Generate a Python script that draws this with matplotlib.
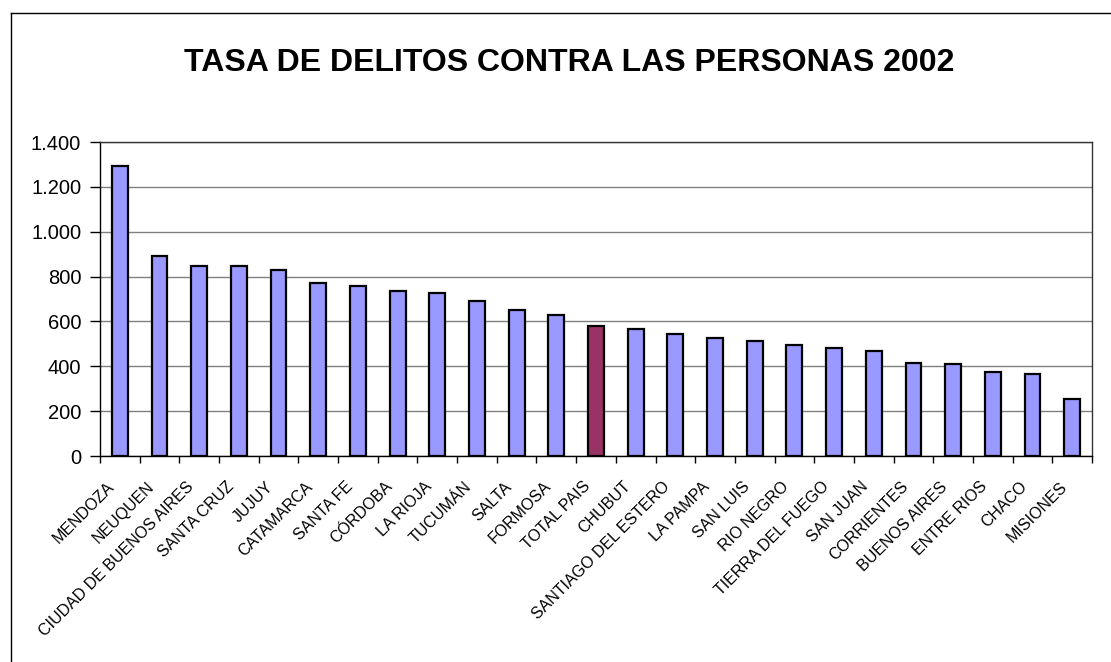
import matplotlib
matplotlib.use("Agg")
import matplotlib.pyplot as plt
from matplotlib.lines import Line2D
from matplotlib.ticker import FuncFormatter, FixedLocator
from matplotlib.transforms import ScaledTranslation
import numpy as np

plt.rcParams['font.family'] = ['Liberation Sans', 'DejaVu Sans']

categories = ["MENDOZA", "NEUQUEN", "CIUDAD DE BUENOS AIRES", "SANTA CRUZ", "JUJUY",
              "CATAMARCA", "SANTA FE", "CÓRDOBA", "LA RIOJA", "TUCUMÁN", "SALTA",
              "FORMOSA", "TOTAL PAIS", "CHUBUT", "SANTIAGO DEL ESTERO", "LA PAMPA",
              "SAN LUIS", "RIO NEGRO", "TIERRA DEL FUEGO", "SAN JUAN", "CORRIENTES",
              "BUENOS AIRES", "ENTRE RIOS", "CHACO", "MISIONES"]
values = [1291, 893, 848, 845, 829, 771, 757, 734, 725, 689, 649, 629, 580,
          567, 542, 525, 512, 493, 481, 466, 414, 409, 375, 365, 254]
highlight = "TOTAL PAIS"
title = "TASA DE DELITOS CONTRA LAS PERSONAS 2002"
y_ticks = [0, 200, 400, 600, 800, 1000, 1200, 1400]

W, H = 1111, 662
fig = plt.figure(figsize=(W / 100, H / 100), dpi=100)
ax = fig.add_axes([100 / W, 1 - 456 / H, (1092 - 100) / W, (456 - 142) / H])

x = np.arange(len(categories))
colors = ["#993366" if c == highlight else "#9999FF" for c in categories]
ax.bar(x, values, width=0.4, color=colors, edgecolor="black", linewidth=1.6, zorder=3)

ax.set_xlim(-0.5, len(categories) - 0.5)
ax.set_ylim(0, 1400)
ax.yaxis.set_major_locator(FixedLocator(y_ticks))
ax.yaxis.set_major_formatter(FuncFormatter(lambda v, p: f"{int(v):,}".replace(",", ".")))
ax.grid(axis="y", color="#808080", linewidth=1.0, zorder=0)
ax.tick_params(axis="y", labelsize=14.5, length=7, width=1, color="black", pad=6.5)

# category boundary ticks
ax.set_xticks(np.arange(-0.5, len(categories) + 0.5, 1.0))
ax.set_xticklabels([])
ax.tick_params(axis="x", length=5, width=1, color="black")
ax.set_xticks(x, minor=True)
ax.set_xticklabels(categories, minor=True, rotation=45, ha="right",
                   rotation_mode="anchor", fontsize=11.5)
ax.tick_params(axis="x", which="minor", length=0, pad=10)
offset = ScaledTranslation(-13 / 100, -9 / 100, fig.dpi_scale_trans)
for lab in ax.get_xticklabels(minor=True):
    lab.set_transform(lab.get_transform() + offset)

for s in ["left", "bottom"]:
    ax.spines[s].set_color("black")
    ax.spines[s].set_linewidth(1.0)
for s in ["top", "right"]:
    ax.spines[s].set_color("#333333")
    ax.spines[s].set_linewidth(1.0)

fig.text(569 / W, 1 - 63 / H, title, ha="center", va="center",
         fontsize=23, fontweight="bold")

# outer chart border (left and top visible)
fig.add_artist(Line2D([10.5 / W, 10.5 / W], [0, 1 - 13 / H], color="black", lw=1.0,
                      transform=fig.transFigure))
fig.add_artist(Line2D([10.5 / W, 1], [1 - 13 / H, 1 - 13 / H], color="black", lw=1.0,
                      transform=fig.transFigure))

fig.savefig("out.png", dpi=100, facecolor="white")
